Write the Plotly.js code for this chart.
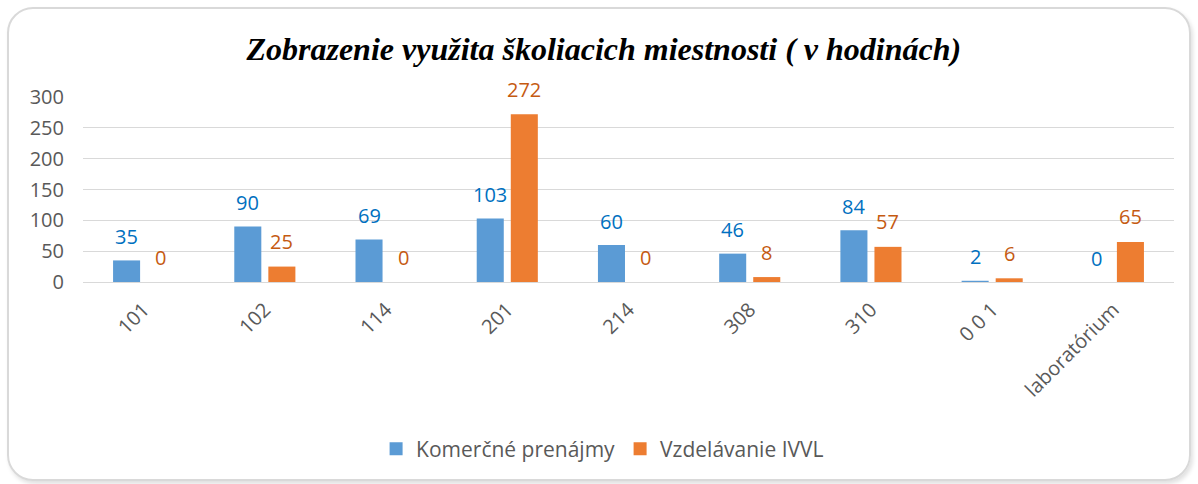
<!DOCTYPE html>
<html>
<head>
<meta charset="utf-8">
<script src="https://cdn.plot.ly/plotly-3.0.1.min.js"></script>
<style>
html,body{margin:0;padding:0;background:#fff;}
#wrap{position:relative;width:1198px;height:484px;overflow:hidden;}
#chart{position:absolute;left:0;top:0;width:1198px;height:484px;}
#frame{position:absolute;left:7px;top:7px;width:1180px;height:470px;border:2px solid #d9d9d9;border-radius:26px;box-shadow:2px 3px 4px rgba(0,0,0,0.12);pointer-events:none;}
</style>
</head>
<body>
<div id="wrap"><div id="chart"></div><div id="frame"></div></div>
<script>
const categories = ["101", "102", "114", "201", "214", "308", "310", "0 0 1", "laboratórium"];
const komercne = [35, 90, 69, 103, 60, 46, 84, 2, 0];
const vzdelavanie = [0, 25, 0, 272, 0, 8, 57, 6, 65];
const seriesNames = ["Komerčné prenájmy", "Vzdelávanie IVVL"];
const yTicks = [0, 50, 100, 150, 200, 250, 300];

const fontFamily = "'Open Sans', 'Noto Sans', sans-serif";
const blue = "#5B9BD5", orange = "#ED7D31";
const blueText = "#0070C0", orangeText = "#C55A11";

const traces = [
  {type: "bar", name: seriesNames[0], x: categories, y: komercne, marker: {color: blue}, hoverinfo: "none", showlegend: false},
  {type: "bar", name: seriesNames[1], x: categories, y: vzdelavanie, marker: {color: orange}, hoverinfo: "none", showlegend: false},
  {type: "scatter", mode: "markers", name: seriesNames[0], x: [null], y: [null], marker: {color: blue, symbol: "square", size: 13}, showlegend: true},
  {type: "scatter", mode: "markers", name: seriesNames[1], x: [null], y: [null], marker: {color: orange, symbol: "square", size: 13}, showlegend: true}
];

const annotations = [];
categories.forEach((c, i) => {
  annotations.push({x: i, y: komercne[i], xref: "x", yref: "y", text: String(komercne[i]), showarrow: false,
    xshift: -17, yshift: 24, yanchor: "middle", font: {family: fontFamily, size: 20, color: blueText}});
  annotations.push({x: i, y: vzdelavanie[i], xref: "x", yref: "y", text: String(vzdelavanie[i]), showarrow: false,
    xshift: 17, yshift: 25, yanchor: "middle", font: {family: fontFamily, size: 20, color: orangeText}});
});

const layout = {
  width: 1198, height: 484,
  margin: {l: 83, r: 24, t: 97, b: 202},
  paper_bgcolor: "rgba(0,0,0,0)", plot_bgcolor: "rgba(0,0,0,0)",
  title: {text: "<b><i>Zobrazenie využita školiacich miestnosti ( v hodinách)</i></b>",
    font: {family: "'Liberation Serif', 'Times New Roman', serif", size: 32, color: "#000"},
    x: 0.504, xanchor: "center", y: 0.9, yanchor: "middle", yref: "container"},
  barmode: "group", bargap: 0.438, bargroupgap: 0.206,
  xaxis: {type: "category", range: [-0.5, categories.length - 0.5], autorange: false, tickangle: -45,
    tickfont: {family: fontFamily, size: 20, color: "#595959"}, ticklabelstandoff: 7,
    showgrid: false, showline: true, linecolor: "#d9d9d9", linewidth: 1, ticks: "", fixedrange: true},
  yaxis: {range: [0, 300], autorange: false, tickvals: yTicks, ticktext: yTicks.map(String),
    tickfont: {family: fontFamily, size: 20, color: "#595959"},
    showgrid: true, gridcolor: "#d9d9d9", gridwidth: 1, zeroline: false, showline: false,
    ticks: "", ticklabelstandoff: 18, fixedrange: true},
  showlegend: true,
  legend: {orientation: "h", xref: "container", yref: "container", x: 0.503, y: 0.072,
    xanchor: "center", yanchor: "middle", font: {family: fontFamily, size: 21, color: "#595959"},
    itemwidth: 30, tracegroupgap: 0},
  annotations: annotations
};

Plotly.newPlot("chart", traces, layout, {displayModeBar: false, staticPlot: true});
</script>
</body>
</html>
